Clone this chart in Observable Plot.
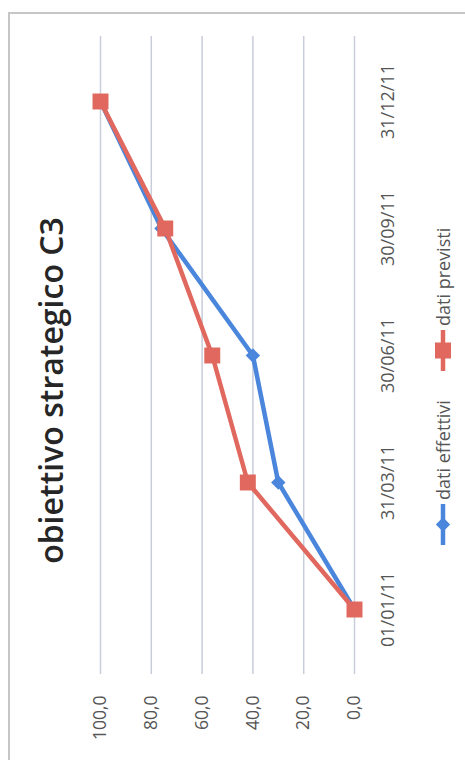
<!DOCTYPE html>
<html><head><meta charset="utf-8">
<script src="https://cdn.jsdelivr.net/npm/d3@7"></script>
<script src="https://cdn.jsdelivr.net/npm/@observablehq/plot@0.6"></script>
<style>
html,body{margin:0;padding:0;background:#fff;}
#wrap{position:relative;width:465px;height:760px;overflow:hidden;background:#fff;}
#border{position:absolute;left:8px;top:12px;width:480px;height:780px;border:2px solid #c6c6c6;box-sizing:border-box;pointer-events:none;}
#chart{position:absolute;left:0;top:0;}
</style></head><body>
<div id="wrap"><div id="chart"></div><div id="border"></div></div>
<script>
const dates = ["01/01/11", "31/03/11", "30/06/11", "30/09/11", "31/12/11"];
const datiEffettivi = [0, 30, 40, 76, 100];
const datiPrevisti = [0, 42, 56, 74.5, 100];
const valueTicks = [0, 20, 40, 60, 80, 100];
const seriesNames = ["dati effettivi", "dati previsti"];
const titleText = "obiettivo strategico C3";

const blue = "#4a86dc";
const red = "#e0685e";
const font = "'Open Sans', 'Noto Sans', sans-serif";

const effRows = dates.map((d, i) => ({date: d, value: datiEffettivi[i]}));
const prevRows = dates.map((d, i) => ({date: d, value: datiPrevisti[i]}));
const fmt = v => v.toFixed(1).replace(".", ",");

const plot = Plot.plot({
  width: 465,
  height: 760,
  marginLeft: 100,
  marginRight: 111,
  marginTop: 36,
  marginBottom: 86,
  x: {type: "linear", domain: [0, 100], reverse: true, axis: null},
  y: {type: "point", domain: dates, reverse: true, padding: 0.5, axis: null},
  style: {fontFamily: font, background: "transparent", overflow: "visible"},
  marks: [
    Plot.ruleX(valueTicks, {x: d => d, stroke: "#c8cdd9", strokeWidth: 1.5}),
    Plot.text(valueTicks, {x: d => d, text: fmt, frameAnchor: "bottom", dy: 21, rotate: -90,
      textAnchor: "end", lineAnchor: "middle", fontSize: 17.5, fill: "#555"}),
    Plot.text(dates, {y: d => d, text: d => d, frameAnchor: "right", dx: 34, rotate: -90,
      textAnchor: "middle", lineAnchor: "middle", fontSize: 18, fill: "#555"}),
    Plot.line(effRows, {x: "value", y: "date", stroke: blue, strokeWidth: 4.5}),
    Plot.dot(effRows, {x: "value", y: "date", symbol: "diamond2", r: 6.5, fill: blue}),
    Plot.line(prevRows, {x: "value", y: "date", stroke: red, strokeWidth: 4.5}),
    Plot.dot(prevRows, {x: "value", y: "date", symbol: "square", r: 9, fill: red}),
    Plot.text([titleText], {text: d => d, frameAnchor: "left", dx: -48, dy: 35, rotate: -90,
      textAnchor: "middle", lineAnchor: "middle", fontSize: 32, fontWeight: 600, fill: "#262626"})
  ]
});
document.getElementById("chart").appendChild(plot);

// legend (rotated, bottom-to-top)
const svg = d3.select(plot);
const lg = svg.append("g").attr("font-family", font).attr("font-size", 18).attr("fill", "#555");
const legendItems = [
  {name: seriesNames[0], color: blue, symbol: "diamond", y0: 545},
  {name: seriesNames[1], color: red, symbol: "square", y0: 371}
];
const lx = 443;
legendItems.forEach(it => {
  lg.append("line").attr("x1", lx).attr("x2", lx).attr("y1", it.y0).attr("y2", it.y0 - 41)
    .attr("stroke", it.color).attr("stroke-width", 4.5);
  if (it.symbol === "square") {
    lg.append("rect").attr("x", lx - 8).attr("y", it.y0 - 20.5 - 8).attr("width", 16).attr("height", 16).attr("fill", it.color);
  } else {
    lg.append("path").attr("d", d3.symbol(d3.symbolDiamond2, 130)()).attr("transform", `translate(${lx},${it.y0 - 20.5})`).attr("fill", it.color);
  }
  lg.append("text").attr("transform", `translate(${lx + 1},${it.y0 - 45}) rotate(-90)`)
    .attr("dy", "0.32em").attr("text-anchor", "start").text(it.name);
});
</script>
</body></html>
